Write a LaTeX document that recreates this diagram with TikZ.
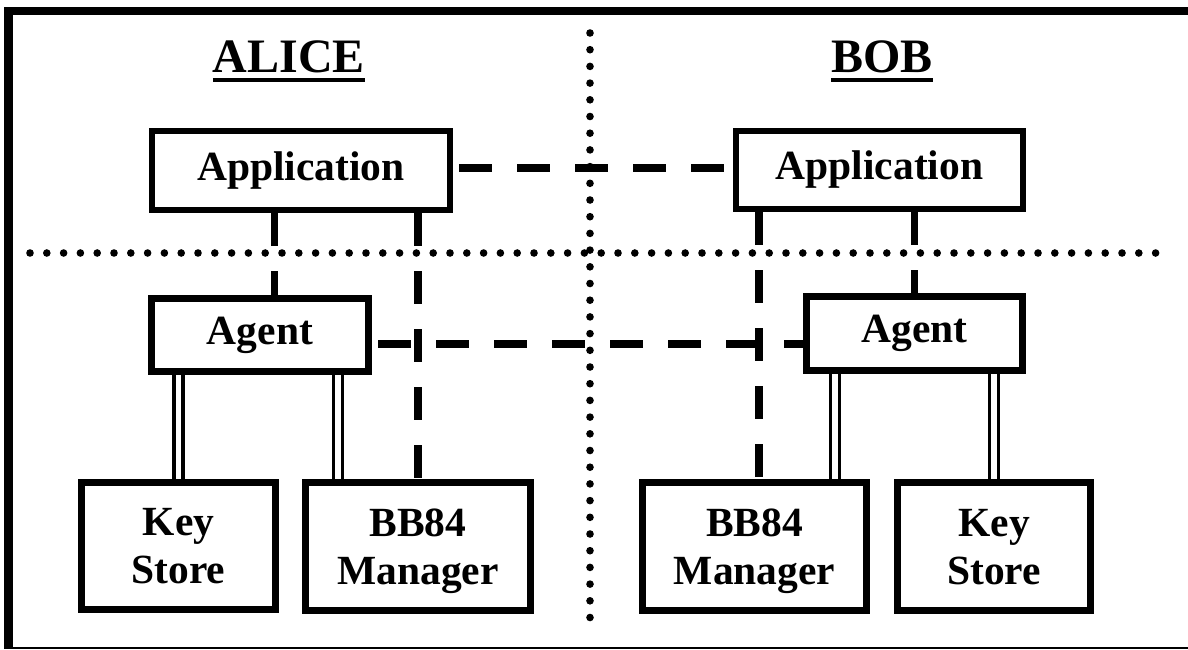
\documentclass[tikz,border=0pt]{standalone}
\usepackage{fontspec}
\setmainfont{Liberation Serif}

\begin{document}
\begin{tikzpicture}[x=1pt,y=-1pt,
  box/.style={draw, line width=7pt, inner sep=0pt, align=center,
    font=\fontsize{41.5}{48}\selectfont\bfseries},
  title/.style={inner sep=0pt, anchor=base, font=\fontsize{48}{56}\selectfont\bfseries},
  dashline/.style={line width=7.5pt, dash pattern=on 33pt off 25pt},
  dbl/.style={double, line width=3.5pt, double distance=5.5pt}]

\useasboundingbox (0,0) rectangle (1188,649);

% frame
\draw[line width=8pt] (4,11) -- (1188,11);
\draw[line width=9pt] (8.5,7) -- (8.5,648);
\draw[line width=2pt] (4,648) -- (1188,648);

% separators
\foreach \i in {0,...,67}
  \fill (30+\i*16.8,253) circle (3.8);
\foreach \i in {0,...,35}
  \fill (590,33+\i*16.7) circle (3.8);

% titles
\node[title] (alice) at (289,72) {ALICE};
\node[title] (bob) at (882,72) {BOB};
\draw[line width=4pt] ([yshift=-7.7pt]alice.base west) -- ([yshift=-7.7pt]alice.base east);
\draw[line width=4pt] ([yshift=-7.7pt]bob.base west) -- ([yshift=-7.7pt]bob.base east);

% alice
\node[box, line width=6pt, minimum width=298pt, minimum height=79pt] (aApp) at (301,170.5) {Application};
\node[box, minimum width=217pt, minimum height=73pt] (aAgent) at (260,335) {Agent};
\node[box, text depth=0pt, minimum width=194pt, minimum height=127pt] (aKey) at (178.5,546) {Key\\Store};
\node[box, text depth=0pt, minimum width=225pt, minimum height=128pt] (aBB) at (418,546.5) {BB84\\Manager};

% bob
\node[box, line width=6pt, minimum width=287pt, minimum height=78pt] (bApp) at (879.5,170) {Application};
\node[box, minimum width=216pt, minimum height=74pt] (bAgent) at (914.5,333.5) {Agent};
\node[box, text depth=0pt, minimum width=224pt, minimum height=128pt] (bBB) at (754.5,546.5) {BB84\\Manager};
\node[box, text depth=0pt, minimum width=193pt, minimum height=128pt] (bKey) at (994,546.5) {Key\\Store};

\coordinate (yApp) at (0,168);
\coordinate (yAgent) at (0,344);
\coordinate (xa1) at (274.5,0);
\coordinate (xa2) at (338,0);
\coordinate (xb1) at (759,0);
\coordinate (xb2) at (835,0);

% dashed links
\draw[dashline] (aApp.east |- yApp) ++(6,0) -- ([xshift=-8pt]bApp.west |- yApp);
\draw[dashline] (aAgent.east |- yAgent) ++(6,0) -- (bAgent.west |- yAgent);
\draw[dashline] (xa1 |- aApp.south) -- (xa1 |- aAgent.north);
\draw[dashline] (aBB.north |- aApp.south) -- (aBB.north);
\draw[dashline] (xb1 |- bApp.south) -- (xb1 |- bBB.north);
\draw[dashline] (bAgent.north |- bApp.south) -- (bAgent.north);

% double links
\draw[dbl] (aKey.north |- aAgent.south) -- (aKey.north);
\draw[dbl] (xa2 |- aAgent.south) -- (xa2 |- aBB.north);
\draw[dbl] (xb2 |- bAgent.south) -- (xb2 |- bBB.north);
\draw[dbl] (bKey.north |- bAgent.south) -- (bKey.north);

\end{tikzpicture}
\end{document}
